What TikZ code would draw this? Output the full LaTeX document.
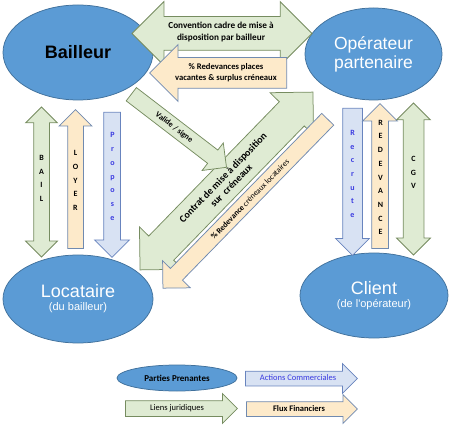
\documentclass[tikz,border=0pt]{standalone}
\usepackage{fontspec}
\setmainfont{Carlito}
\newfontfamily\arialfont{Liberation Sans}
\usetikzlibrary{shapes.geometric,shapes.arrows}
\definecolor{partyblue}{RGB}{91,155,213}
\definecolor{partyedge}{RGB}{65,113,156}
\definecolor{lawfill}{RGB}{223,235,211}
\definecolor{lawedge}{RGB}{118,140,96}
\definecolor{cashfill}{RGB}{253,234,202}
\definecolor{cashedge}{RGB}{112,138,176}
\definecolor{salesfill}{RGB}{216,226,243}
\definecolor{salesedge}{RGB}{104,132,190}
\definecolor{salestext}{RGB}{58,58,225}
\tikzset{every picture/.style={line width=0.75pt}}
\tikzset{
    party/.style={ellipse, fill=partyblue, draw=partyedge, inner sep=0pt, align=center},
    sarrow/.style n args={3}{single arrow, anchor=tail, inner xsep=0pt, inner ysep=#2,
        minimum height=#1, single arrow head extend=#3},
    darrow/.style n args={3}{double arrow, inner xsep=0pt, inner ysep=#2,
        minimum height=#1, double arrow head extend=#3},
    law/.style={fill=lawfill, draw=lawedge},
    cash/.style={fill=cashfill, draw=cashedge},
    sales/.style={fill=salesfill, draw=salesedge},
    letters/.style={align=center, inner sep=0pt, font=\bfseries\fontsize{8}{13.7}\selectfont},
    tag/.style 2 args={align=center, inner sep=0pt, font=\bfseries\fontsize{#1}{#2}\selectfont},
}

\begin{document}
\begin{tikzpicture}[x=1pt, y=-1pt]
    \useasboundingbox (0,0) rectangle (449,435);
    \node[party, minimum width=150pt, minimum height=95pt,
        font=\arialfont\bfseries\fontsize{18}{20}\selectfont] (bailleur) at (78,52.5) {Bailleur};
    \node[party, text=white, minimum width=137pt, minimum height=92pt,
        font=\arialfont\fontsize{17.5}{19}\selectfont] (operateur) at (373.5,54) {Opérateur\\partenaire};
    \node[party, text=white, minimum width=150pt, minimum height=88pt,
        font=\arialfont\fontsize{18}{13}\selectfont] (locataire) at (78,299)
        {Locataire\\{\fontsize{11}{13}\selectfont(du bailleur)}};
    \node[party, text=white, minimum width=148pt, minimum height=85pt,
        font=\arialfont\fontsize{18}{13}\selectfont] (client) at (374,295.5)
        {Client\\{\fontsize{11}{13}\selectfont(de l'opérateur)}};

    \node[darrow={180pt}{16.5pt}{15pt}, law] (convention) at (222,33.5) {};
    \node[tag={9.2}{12.3}] (convention-text) at (221,32) {Convention cadre de mise à\\disposition par bailleur};
    \node[sarrow={137pt}{15pt}{13pt}, cash, rotate=180] (places) at (287,73) {};
    \node[tag={8.6}{11.5}] (places-text) at (226,72.5) {\% Redevances places\\vacantes \& surplus créneaux};

    \node[darrow={248pt}{17pt}{13pt}, law, rotate=45.8] (contrat) at (226.5,181) {};
    \node[tag={10}{11.5}, rotate=45.8] (contrat-text) at (227,181.5) {Contrat de mise à disposition\\sur\ \ créneaux};
    \node[sarrow={120pt}{8pt}{9pt}, law, rotate=-37.5] (valide) at (131,94) {};
    \node[tag={8}{10}, rotate=-37.5] (valide-text) at (174,127.5) {Valide / signe};
    \node[sarrow={236pt}{8pt}{11pt}, cash, rotate=-134.3] (creneaux) at (328,119) {};
    \node[inner sep=0pt, font=\fontsize{8}{10}\selectfont, rotate=45.7] (creneaux-text) at (250,199)
        {\textbf{\% Redevance} créneaux locataires};

    \node[darrow={150pt}{7.5pt}{8pt}, law, rotate=90] (bail) at (41.5,182) {};
    \node[sarrow={139pt}{7.5pt}{8.5pt}, cash, rotate=90] (loyer) at (75.5,249) {};
    \node[sarrow={145pt}{8pt}{9pt}, sales, rotate=-90] (propose) at (112,112) {};
    \node[sarrow={147pt}{9.5pt}{7pt}, sales, rotate=-90] (recrute) at (352.5,108) {};
    \node[sarrow={145pt}{8pt}{9pt}, cash, rotate=90] (redevance) at (380,249) {};
    \node[darrow={152pt}{10pt}{6.5pt}, law, rotate=90] (cgv) at (413.5,179) {};
    \node[letters] (bail-text) at (41.5,178.5) {B\\A\\I\\L};
    \node[letters] (loyer-text) at (75.5,180.5) {L\\O\\Y\\E\\R};
    \node[letters, text=salestext] (propose-text) at (112.5,176.5) {P\\r\\o\\p\\o\\s\\e};
    \node[letters, text=salestext] (recrute-text) at (352.5,174) {R\\e\\c\\r\\u\\t\\e};
    \node[letters] (redevance-text) at (380.5,177.5) {R\\E\\D\\E\\V\\A\\N\\C\\E};
    \node[letters] (cgv-text) at (413.5,172.5) {C\\G\\V};

    \node[party, minimum width=120pt, minimum height=26pt,
        font=\bfseries\fontsize{9}{11}\selectfont] (legparties) at (177,378) {Parties Prenantes};
    \node[sarrow={112pt}{7pt}{7.5pt}, sales] (legactions) at (245,378.5) {};
    \node[text=salestext, font=\fontsize{8.5}{10}\selectfont] (legactions-text) at (298,378) {Actions Commerciales};
    \node[sarrow={112pt}{7.5pt}{7pt}, law] (legliens) at (125,408.5) {};
    \node[font=\fontsize{8.5}{10}\selectfont] (legliens-text) at (177,408) {Liens juridiques};
    \node[sarrow={111pt}{7pt}{7pt}, cash] (legflux) at (246,409) {};
    \node[tag={8.5}{10}] (legflux-text) at (299,409) {Flux Financiers};
\end{tikzpicture}
\end{document}
